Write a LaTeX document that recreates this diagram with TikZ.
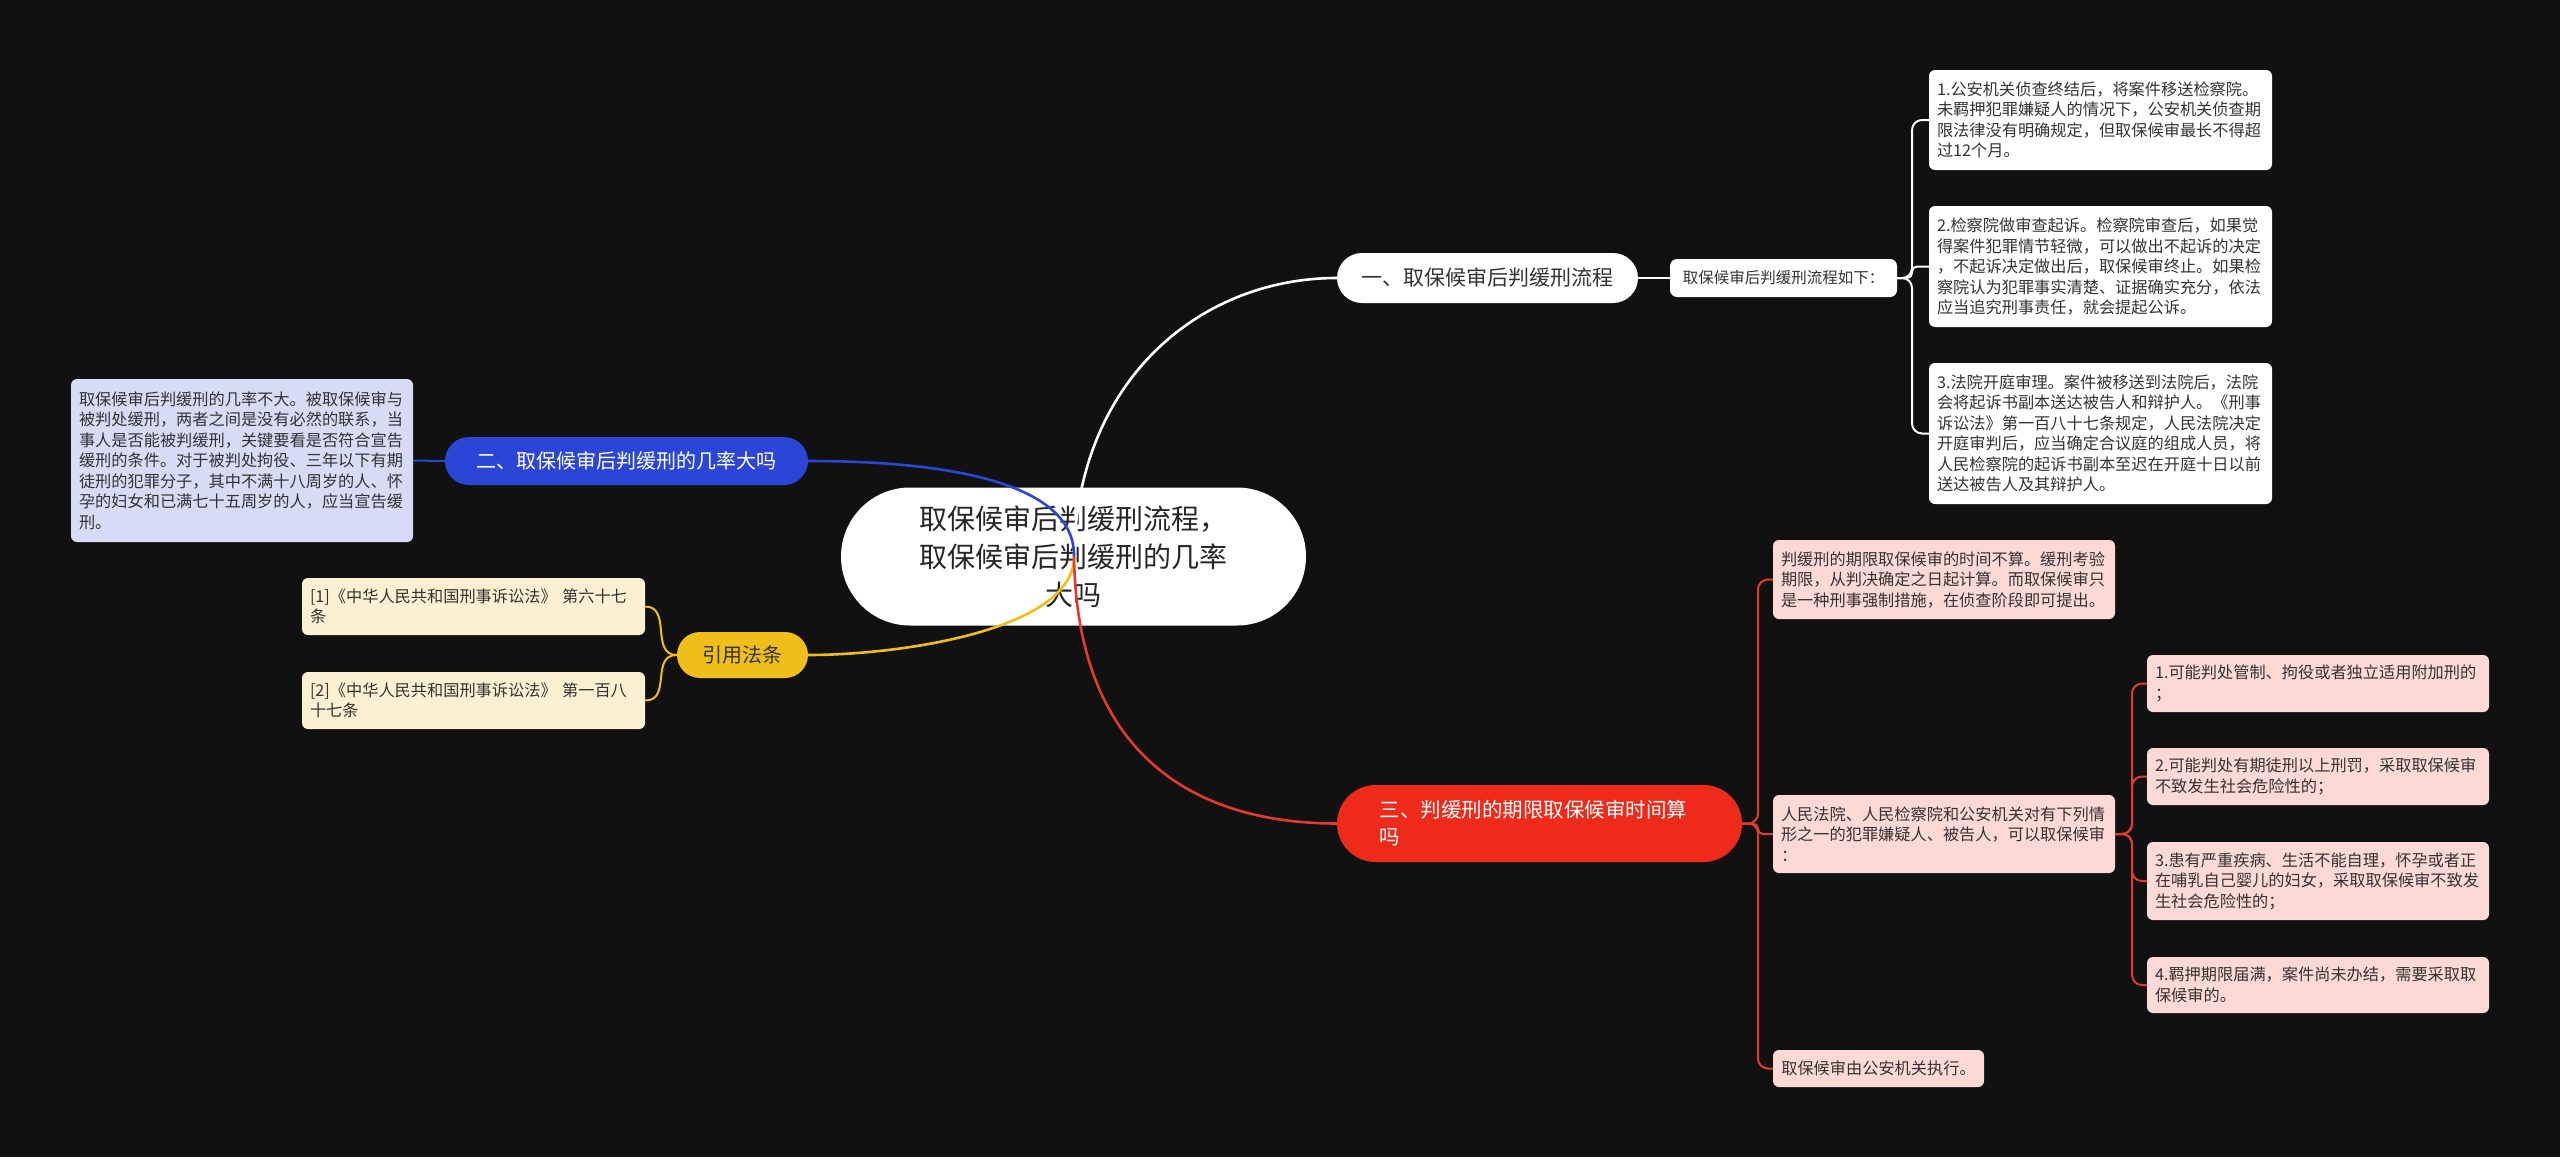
\documentclass[tikz,border=0pt]{standalone}
\usepackage{fontspec}
\setmainfont{Noto Sans CJK SC}
\definecolor{bgc}{HTML}{111111}
\definecolor{bluec}{HTML}{2B46D6}
\definecolor{blueleaf}{HTML}{D8DBF6}
\definecolor{yelc}{HTML}{F0BE1A}
\definecolor{yelleaf}{HTML}{FCF0D2}
\definecolor{redc}{HTML}{EE2A1A}
\definecolor{redleaf}{HTML}{FDD9D6}
\definecolor{redline}{HTML}{E33B2B}
\definecolor{txt}{HTML}{333333}
\tikzset{
  box/.style={rectangle, rounded corners=6pt, inner xsep=8pt, inner ysep=4pt, align=left, text=txt,
    font={\fontsize{16.2}{20.5}\selectfont}},
  wleaf/.style={box, fill=white},
  bleaf/.style={box, fill=blueleaf},
  yleaf/.style={box, fill=yelleaf},
  rleaf/.style={box, fill=redleaf},
  conn/.style={line width=2pt},
  mainc/.style={line width=2.6pt},
}
\begin{document}
\begin{tikzpicture}[x=1pt,y=-1pt]
\fill[bgc] (0,0) rectangle (2560,1157);
\useasboundingbox (0,0) rectangle (2560,1157);

% center
\node[fill=white, rounded corners=69pt, minimum width=465pt, minimum height=138pt, align=center, text=black!85,
  font={\fontsize{28}{38}\selectfont}] (c) at (1073.5,556.5)
  {取保候审后判缓刑流程，\\取保候审后判缓刑的几率\\大吗};
\coordinate (hub) at (1074,556);

% branch 1
\node[fill=white, rounded corners=25pt, minimum width=301pt, minimum height=50pt, text=txt,
  font={\fontsize{21}{26}\selectfont}] (n1) at (1487.5,278) {一、取保候审后判缓刑流程};
\node[fill=white, rounded corners=7pt, minimum width=227pt, minimum height=38pt, text=txt, inner sep=0pt,
  font={\fontsize{15.5}{19}\selectfont}] (n1a) at (1783.5,278) {取保候审后判缓刑流程如下：};
\node[wleaf, text width=327pt, minimum height=100pt] (l1) at (2100.5,120)
  {1.公安机关侦查终结后，将案件移送检察院。\\未羁押犯罪嫌疑人的情况下，公安机关侦查期\\限法律没有明确规定，但取保候审最长不得超\\过12个月。};
\node[wleaf, text width=327pt, minimum height=121pt] (l2) at (2100.5,266.5)
  {2.检察院做审查起诉。检察院审查后，如果觉\\得案件犯罪情节轻微，可以做出不起诉的决定\\，不起诉决定做出后，取保候审终止。如果检\\察院认为犯罪事实清楚、证据确实充分，依法\\应当追究刑事责任，就会提起公诉。};
\node[wleaf, text width=327pt, minimum height=141pt] (l3) at (2100.5,433.5)
  {3.法院开庭审理。案件被移送到法院后，法院\\会将起诉书副本送达被告人和辩护人。《刑事\\诉讼法》第一百八十七条规定，人民法院决定\\开庭审判后，应当确定合议庭的组成人员，将\\人民检察院的起诉书副本至迟在开庭十日以前\\送达被告人及其辩护人。};

% branch 2
\node[fill=bluec, rounded corners=24pt, minimum width=363pt, minimum height=48pt, text=white,
  font={\fontsize{20}{24}\selectfont}] (n2) at (626.5,461) {二、取保候审后判缓刑的几率大吗};
\node[bleaf, text width=326pt, minimum height=163pt] (b1) at (242,460.5)
  {取保候审后判缓刑的几率不大。被取保候审与\\被判处缓刑，两者之间是没有必然的联系，当\\事人是否能被判缓刑，关键要看是否符合宣告\\缓刑的条件。对于被判处拘役、三年以下有期\\徒刑的犯罪分子，其中不满十八周岁的人、怀\\孕的妇女和已满七十五周岁的人，应当宣告缓\\刑。};

% branch 4 (yellow)
\node[fill=yelc, rounded corners=23pt, minimum width=131pt, minimum height=46pt, text=txt,
  font={\fontsize{20}{24}\selectfont}] (n4) at (742.5,655) {引用法条};
\node[yleaf, text width=327pt, minimum height=57pt] (y1) at (473.5,606.5)
  {[1]《中华人民共和国刑事诉讼法》 第六十七\\条};
\node[yleaf, text width=327pt, minimum height=57pt] (y2) at (473.5,700.5)
  {[2]《中华人民共和国刑事诉讼法》 第一百八\\十七条};

% branch 3 (red)
\node[fill=redc, rounded corners=38.5pt, minimum width=405pt, minimum height=77pt, text=white, align=left,
  text width=320pt, font={\fontsize{20.5}{27}\selectfont}] (n3) at (1539.5,823.5)
  {三、判缓刑的期限取保候审时间算\\吗};
\node[rleaf, text width=326pt, minimum height=79pt] (r1) at (1944,579.5)
  {判缓刑的期限取保候审的时间不算。缓刑考验\\期限，从判决确定之日起计算。而取保候审只\\是一种刑事强制措施，在侦查阶段即可提出。};
\node[rleaf, text width=326pt, minimum height=78pt] (r2) at (1944,834)
  {人民法院、人民检察院和公安机关对有下列情\\形之一的犯罪嫌疑人、被告人，可以取保候审\\：};
\node[rleaf, minimum width=211pt, minimum height=37pt] (r3) at (1878.5,1068.5)
  {取保候审由公安机关执行。};
\node[rleaf, text width=326pt, minimum height=57pt] (s1) at (2318,683.5)
  {1.可能判处管制、拘役或者独立适用附加刑的\\；};
\node[rleaf, text width=326pt, minimum height=57pt] (s2) at (2318,776.5)
  {2.可能判处有期徒刑以上刑罚，采取取保候审\\不致发生社会危险性的；};
\node[rleaf, text width=326pt, minimum height=78pt] (s3) at (2318,881)
  {3.患有严重疾病、生活不能自理，怀孕或者正\\在哺乳自己婴儿的妇女，采取取保候审不致发\\生社会危险性的；};
\node[rleaf, text width=326pt, minimum height=56pt] (s4) at (2318,985)
  {4.羁押期限届满，案件尚未办结，需要采取取\\保候审的。};

% main curves from hub
\draw[mainc, white] (hub) .. controls (1077,380) and (1200,278) .. (n1.west);
\draw[mainc, bluec] (hub) .. controls (1075,470) and (900,461) .. (n2.east);
\draw[mainc, yelc] (hub) .. controls (1075,630) and (900,655) .. (n4.east);
\draw[mainc, redline] (hub) .. controls (1077,760) and (1200,823.5) .. (n3.west);

% branch 1 connectors
\draw[conn, white] (n1.east) -- (n1a.west);
\coordinate (j1) at (1912,278);
\draw[conn, white, rounded corners=10pt] (n1a.east) -- (j1) |- (l1.west);
\draw[conn, white, rounded corners=5pt] (n1a.east) -- (j1) |- (l2.west);
\draw[conn, white, rounded corners=10pt] (n1a.east) -- (j1) |- (l3.west);

% branch 2 connector
\draw[conn, bluec] (n2.west) -- (b1.east);

% branch 4 connectors
\draw[conn, yelc] (n4.west) .. controls (650,655) and (672,606.5) .. (y1.east);
\draw[conn, yelc] (n4.west) .. controls (650,655) and (672,700.5) .. (y2.east);

% branch 3 connectors
\coordinate (j3) at (1758,823.5);
\draw[conn, redline, rounded corners=10pt] (n3.east) -- (j3) |- (r1.west);
\draw[conn, redline, rounded corners=5pt] (n3.east) -- (j3) |- (r2.west);
\draw[conn, redline, rounded corners=10pt] (n3.east) -- (j3) |- (r3.west);
\coordinate (j4) at (2132,834);
\draw[conn, redline, rounded corners=10pt] (r2.east) -- (j4) |- (s1.west);
\draw[conn, redline, rounded corners=10pt] (r2.east) -- (j4) |- (s2.west);
\draw[conn, redline, rounded corners=10pt] (r2.east) -- (j4) |- (s3.west);
\draw[conn, redline, rounded corners=10pt] (r2.east) -- (j4) |- (s4.west);
\end{tikzpicture}
\end{document}
